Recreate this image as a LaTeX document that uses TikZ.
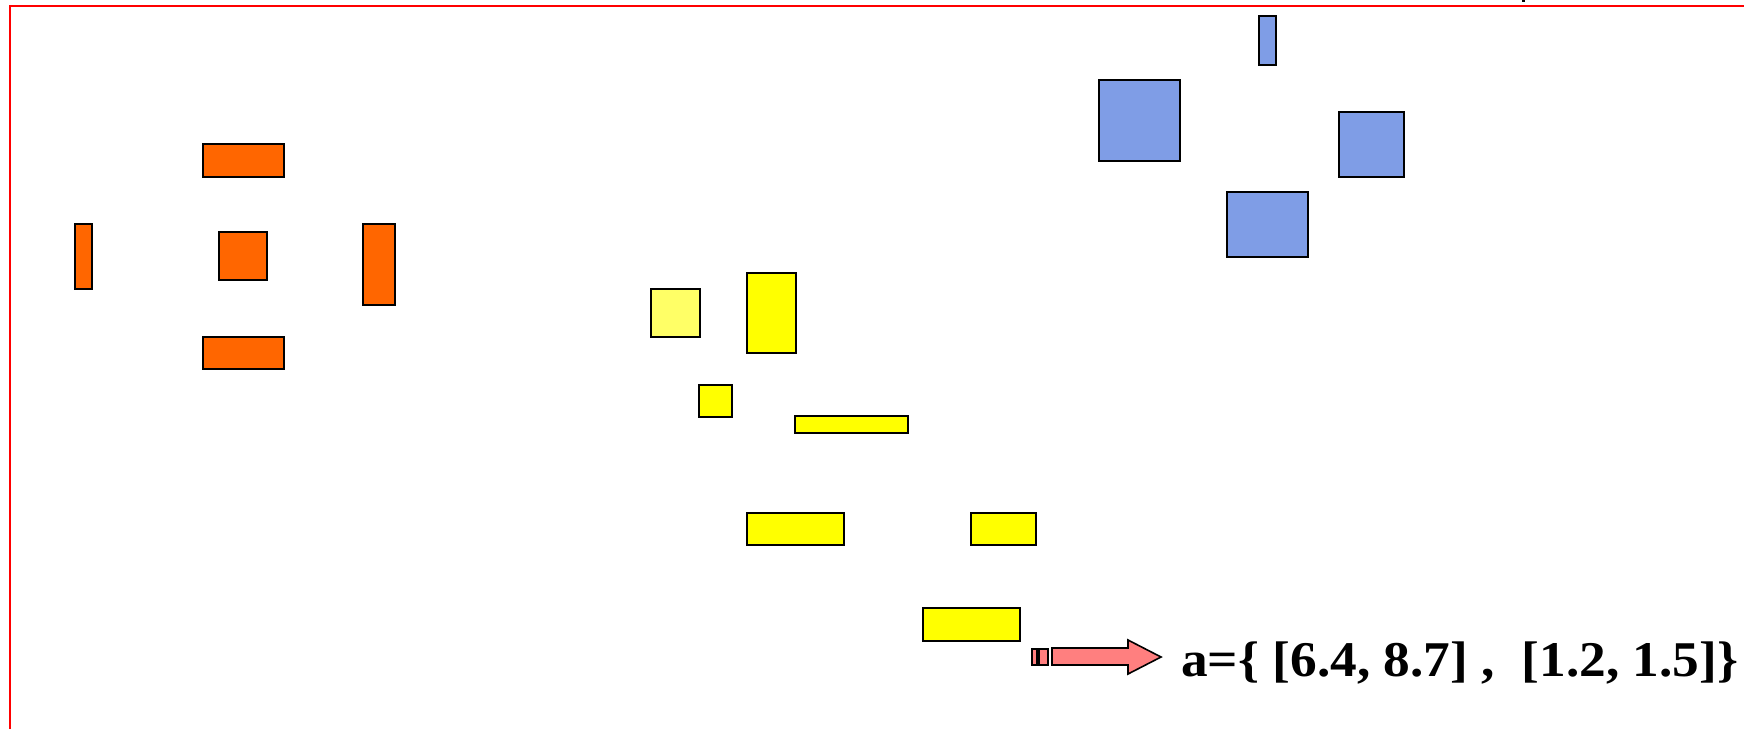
\documentclass[tikz,border=0pt]{standalone}
\usepackage{graphicx}
\usepackage{fontspec}
\setmainfont{Liberation Serif}
\definecolor{orng}{RGB}{255,102,0}
\definecolor{ylw}{RGB}{255,255,0}
\definecolor{lylw}{RGB}{255,255,102}
\definecolor{blu}{RGB}{127,157,230}
\definecolor{pnk}{RGB}{255,127,127}
\begin{document}
\begin{tikzpicture}[x=1pt,y=-1pt,
  box/.style={draw=black,line width=2pt},
  obox/.style={box,fill=orng},
  ybox/.style={box,fill=ylw},
  bbox/.style={box,fill=blu},
  pbox/.style={draw=black,line width=1.6pt,fill=pnk}]
\useasboundingbox (0,0) rectangle (1744,729);
\draw[red,line width=2.5pt] (10,729) -- (10,6) -- (1744,6);
\fill (1522,0) rectangle (1525,2);
% orange group
\draw[obox] (203,144) rectangle (284,177);
\draw[obox] (75,224) rectangle (92,289);
\draw[obox] (219,232) rectangle (267,280);
\draw[obox] (363,224) rectangle (395,305);
\draw[obox] (203,337) rectangle (284,369);
% yellow group
\draw[box,fill=lylw] (651,289) rectangle (700,337);
\draw[ybox] (747,273) rectangle (796,353);
\draw[ybox] (699,385) rectangle (732,417);
\draw[ybox] (795,416) rectangle (908,433);
\draw[ybox] (747,513) rectangle (844,545);
\draw[ybox] (971,513) rectangle (1036,545);
\draw[ybox] (923,608) rectangle (1020,641);
% blue group
\draw[bbox] (1259,16) rectangle (1276,65);
\draw[bbox] (1099,80) rectangle (1180,161);
\draw[bbox] (1339,112) rectangle (1404,177);
\draw[bbox] (1227,192) rectangle (1308,257);
% arrow
\draw[pbox] (1032,649) rectangle (1037,665);
\draw[pbox] (1039,649) rectangle (1048,665);
\draw[pbox] (1052,648) -- (1128,648) -- (1128,640) -- (1161,657) -- (1128,674) -- (1128,665) -- (1052,665) -- cycle;
\node[anchor=base west,inner sep=0pt,font=\fontsize{50}{54}\selectfont\bfseries] (lbl) at (1181,676) {\scalebox{1.067}[1]{a=\{ [6.4, 8.7] ,\ \ [1.2, 1.5]\}}};
\end{tikzpicture}
\end{document}
